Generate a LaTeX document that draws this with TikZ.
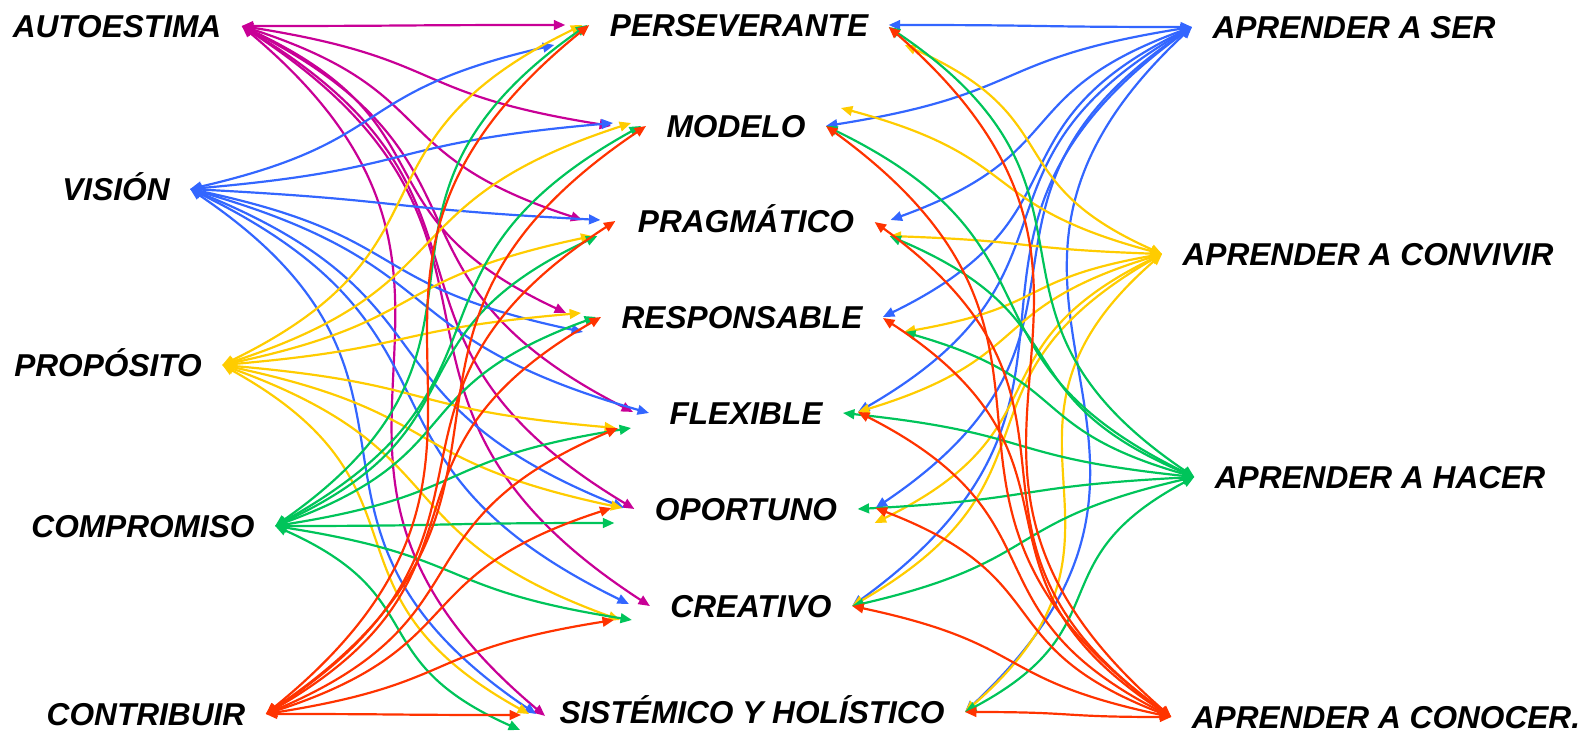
\documentclass[tikz,border=0pt]{standalone}
\usepackage{fontspec}
\setmainfont{Liberation Sans}
\usepackage{tikz}
\usetikzlibrary{arrows.meta}
\definecolor{lila}{RGB}{200,0,150}
\definecolor{azul}{RGB}{51,102,255}
\definecolor{amarillo}{RGB}{255,204,0}
\definecolor{verde}{RGB}{0,196,90}
\definecolor{rojo}{RGB}{255,51,0}
\tikzset{palabra/.style={font=\fontsize{18}{20}\selectfont\bfseries\itshape,inner xsep=11.5pt,inner ysep=0pt,text height=13pt,text depth=0pt}}
\tikzset{enlace/.style={<->,line width=1.25pt,looseness=1.4}}

\begin{document}
\begin{tikzpicture}[>={Triangle[length=6.5pt,width=5.5pt]},x=0.02cm,y=-0.02cm]
    \useasboundingbox (0,0) rectangle (1589,736);
    \path node [palabra] (l1) at (117,26)  {AUTOESTIMA}
          node [palabra] (l2) at (116,189) {VISIÓN}
          node [palabra] (l3) at (108,365) {PROPÓSITO}
          node [palabra] (l4) at (143,526) {COMPROMISO}
          node [palabra] (l5) at (146,714) {CONTRIBUIR}

          node [palabra] (m1) at (739,25)  {PERSEVERANTE}
          node [palabra] (m2) at (736,126) {MODELO}
          node [palabra] (m3) at (746,221) {PRAGMÁTICO}
          node [palabra] (m4) at (742,317) {RESPONSABLE}
          node [palabra] (m5) at (746,413) {FLEXIBLE}
          node [palabra] (m6) at (746,509) {OPORTUNO}
          node [palabra] (m7) at (751,606) {CREATIVO}
          node [palabra] (m8) at (752,712) {SISTÉMICO Y HOLÍSTICO}

          node [palabra] (r1) at (1354,27)  {APRENDER A SER}
          node [palabra] (r2) at (1368,254) {APRENDER A CONVIVIR}
          node [palabra] (r3) at (1380,477) {APRENDER A HACER}
          node [palabra] (r4) at (1386,717) {APRENDER A CONOCER.};

    % izquierda -> centro
    \path [enlace,lila]
         (l1.east) edge [out=0,in=180]   ([shift={(-24,0)}]m1.west)
         (l1.east) edge [out=-9,in=171]  ([shift={(-35,0)}]m2.west)
         (l1.east) edge [out=-18,in=162] ([shift={(-35,-1)}]m3.west)
         (l1.east) edge [out=-25,in=155] ([shift={(-35,-4)}]m4.west)
         (l1.east) edge [out=-27,in=153] ([shift={(-16,-1)}]m5.west)
         (l1.east) edge [out=-31,in=149] (m6.west)
         (l1.east) edge [out=-33,in=147] (m7.west)
         (l1.east) edge [out=-40,in=140] ([shift={(6,4)}]m8.west);
    \path [enlace,azul]
         (l2.east) edge [out=13,in=193]  ([shift={(-35,20)}]m1.west)
         (l2.east) edge [out=5,in=185]   ([shift={(-33,-3)}]m2.west)
         (l2.east) edge [out=-3,in=177]  ([shift={(-17,-1)}]m3.west)
         (l2.east) edge [out=-12,in=168] ([shift={(-18,15)}]m4.west)
         (l2.east) edge [out=-16,in=164] (m5.west)
         (l2.east) edge [out=-22,in=158] ([shift={(-10,-1)}]m6.west)
         (l2.east) edge [out=-26,in=154] ([shift={(-21,-2)}]m7.west)
         (l2.east) edge [out=-34,in=146] ([shift={(-3,2)}]m8.west);
    \path [enlace,amarillo]
         (l3.east) edge [out=26,in=206]  ([shift={(-7,0)}]m1.west)
         (l3.east) edge [out=18,in=198]  ([shift={(-15,-3)}]m2.west)
         (l3.east) edge [out=12,in=192]  ([shift={(-25,15)}]m3.west)
         (l3.east) edge [out=5,in=185]   ([shift={(-20,-4)}]m4.west)
         (l3.east) edge [out=-5,in=175]  ([shift={(-33,15)}]m5.west)
         (l3.east) edge [out=-12,in=168] ([shift={(-12,-1)}]m6.west)
         (l3.east) edge [out=-20,in=160] ([shift={(-30,14)}]m7.west)
         (l3.east) edge [out=-29,in=151] ([shift={(-10,2)}]m8.west);
    \path [enlace,verde]
         (l4.east) edge [out=35,in=215]  ([shift={(-2,0)}]m1.west)
         (l4.east) edge [out=29,in=209]  ([shift={(-5,0)}]m2.west)
         (l4.east) edge [out=25,in=205]  ([shift={(-20,15)}]m3.west)
         (l4.east) edge [out=20,in=200]  ([shift={(-5,0)}]m4.west)
         (l4.east) edge [out=9,in=189]   ([shift={(-18,15)}]m5.west)
         (l4.east) edge [out=0,in=180]   ([shift={(-20,14)}]m6.west)
         (l4.east) edge [out=-9,in=171]  ([shift={(-18,14)}]m7.west)
         (l4.east) edge [out=-24,in=156] ([shift={(-19,18)}]m8.west);
    \path [enlace,rojo]
         (l5.east) edge [out=39,in=219]  (m1.west)
         (l5.east) edge [out=34,in=214]  (m2.west)
         (l5.east) edge [out=33,in=213]  ([shift={(-2,0)}]m3.west)
         (l5.east) edge [out=30,in=210]  (m4.west)
         (l5.east) edge [out=23,in=203]  ([shift={(-31,15)}]m5.west)
         (l5.east) edge [out=18,in=198]  ([shift={(-23,-1)}]m6.west)
         (l5.east) edge [out=9,in=189]   ([shift={(-36,14)}]m7.west)
         (l5.east) edge [out=0,in=180]   ([shift={(-18,3)}]m8.west);

    % centro -> derecha
    \path [enlace,azul]
         (m1.east) edge [out=0,in=180] (r1.west)
         (m2.east) edge [out=9,in=189] (r1.west)
         ([shift={(16,-1)}]m3.east) edge [out=20,in=200] (r1.west)
         (m4.east) edge [out=26,in=206] (r1.west)
         ([shift={(15,-1)}]m5.east) edge [out=30,in=210] (r1.west)
         ([shift={(18,-1)}]m6.east) edge [out=34,in=214] (r1.west)
         (m7.east) edge [out=36,in=216] (r1.west)
         (m8.east) edge [out=43,in=223] (r1.west);
    \path [enlace,amarillo]
         ([shift={(16,20)}]m1.east) edge [out=-24,in=156] (r2.west)
         ([shift={(15,-18)}]m2.east) edge [out=-15,in=165] (r2.west)
         ([shift={(15,15)}]m3.east) edge [out=-2,in=178] (r2.west)
         ([shift={(21,15)}]m4.east) edge [out=10,in=190] (r2.west)
         ([shift={(15,-1)}]m5.east) edge [out=17,in=197] (r2.west)
         ([shift={(17,14)}]m6.east) edge [out=26,in=206] (r2.west)
         (m7.east) edge [out=30,in=210] (r2.west)
         (m8.east) edge [out=41,in=221] (r2.west);
    \path [enlace,verde]
         ([shift={(0,2)}]m1.east) edge [out=-34,in=146] (r3.west)
         (m2.east) edge [out=-26,in=154] (r3.west)
         ([shift={(15,15)}]m3.east) edge [out=-23,in=157] (r3.west)
         ([shift={(21,15)}]m4.east) edge [out=-16,in=164] (r3.west)
         (m5.east) edge [out=-6,in=174] (r3.west)
         (m6.east) edge [out=3,in=183] (r3.west)
         (m7.east) edge [out=13,in=193] (r3.west)
         (m8.east) edge [out=28,in=208] (r3.west);
    \path [enlace,rojo]
         ([shift={(0,2)}]m1.east) edge [out=-41,in=139] (r4.west)
         (m2.east) edge [out=-36,in=144] (r4.west)
         ([shift={(0,1)}]m3.east) edge [out=-36,in=144] (r4.west)
         ([shift={(0,1)}]m4.east) edge [out=-33,in=147] (r4.west)
         ([shift={(15,-1)}]m5.east) edge [out=-27,in=153] (r4.west)
         ([shift={(18,-1)}]m6.east) edge [out=-21,in=159] (r4.west)
         (m7.east) edge [out=-12,in=168] (r4.west)
         (m8.east) edge [out=0,in=180] (r4.west);
\end{tikzpicture}
\end{document}
